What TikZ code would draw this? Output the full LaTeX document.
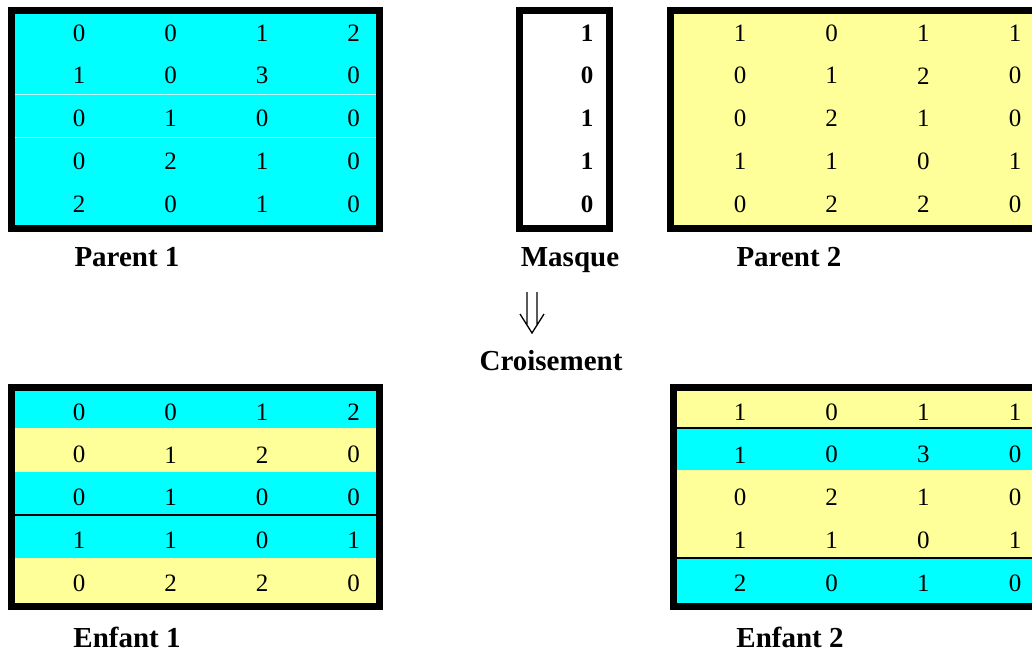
\documentclass[tikz,border=0pt]{standalone}
\usepackage{fontspec}
\setmainfont{Liberation Serif}
\usetikzlibrary{arrows.meta}
\definecolor{crossCyan}{RGB}{0,255,255}
\definecolor{crossYellow}{RGB}{255,255,153}

\begin{document}
\begin{tikzpicture}[
  x=1pt,y=-1pt,
  frame/.style={draw=black, line width=7pt},
  digit/.style={font=\fontsize{25}{29}\selectfont, inner sep=0pt},
  maskdigit/.style={font=\fontsize{25}{29}\selectfont\bfseries, inner sep=0pt},
  caption/.style={font=\fontsize{29}{34}\selectfont\bfseries, inner sep=0pt, anchor=base},
  rowline/.style={draw=black, line width=1.3pt}
]
\useasboundingbox (0,0) rectangle (1032,652);
\clip (0,0) rectangle (1032,652);
\fill[white] (0,0) rectangle (1032,652);

% parent 1, mask, parent 2
\fill[crossCyan] (11.5,10.5) rectangle (379.5,228.5);
\draw[white!75!crossCyan, line width=.8pt] (15,94) -- (376,94) (15,137) -- (376,137);
\fill[crossYellow] (670.5,10.5) rectangle (1045,228.5);
\draw[frame] (11.5,10.5) rectangle (379.5,228.5);
\draw[frame] (519.5,10.5) rectangle (609.5,228.5);
\draw[frame] (670.5,10.5) rectangle (1045,228.5);

\foreach \row [count=\r] in {{0,0,1,2},{1,0,3,0},{0,1,0,0},{0,2,1,0},{2,0,1,0}}
  \foreach \v [count=\c] in \row
    \node[digit] (p1-\r-\c) at ({79+91.5*(\c-1)},{33+42.75*(\r-1)}) {\v};
\foreach \v [count=\r] in {1,0,1,1,0}
  \node[maskdigit] (m-\r) at (587,{33+42.75*(\r-1)}) {\v};
\foreach \row [count=\r] in {{1,0,1,1},{0,1,2,0},{0,2,1,0},{1,1,0,1},{0,2,2,0}}
  \foreach \v [count=\c] in \row
    \node[digit] (p2-\r-\c) at ({740+91.7*(\c-1)},{33+42.75*(\r-1)}) {\v};

\node[caption] (parent1) at (127,266) {Parent 1};
\node[caption] (masque) at (570,266) {Masque};
\node[caption] (parent2) at (789,266) {Parent 2};

% double arrow glyph
\coordinate (fleche) at (532,292);
\draw[line width=1.3pt] (fleche) ++(-5,0) -- ++(0,33) (fleche) ++(5,0) -- ++(0,33)
  (fleche) ++(-12,22) -- ++(12,19) -- ++(12,-19);
\node[caption] (croisement) at (551,370) {Croisement};

% children
\fill[crossCyan] (11.5,387) rectangle (379.5,428);
\fill[crossYellow] (11.5,428) rectangle (379.5,472);
\fill[crossCyan] (11.5,472) rectangle (379.5,558);
\fill[crossYellow] (11.5,558) rectangle (379.5,606);
\draw[rowline] (15,515) -- (376,515);
\draw[frame] (11.5,387) rectangle (379.5,606);

\fill[crossYellow] (673,387) rectangle (1045,428);
\fill[crossCyan] (673,428) rectangle (1045,470);
\fill[crossYellow] (673,470) rectangle (1045,558);
\fill[crossCyan] (673,558) rectangle (1045,606);
\draw[rowline] (676,428) -- (1045,428) (676,558) -- (1045,558);
\draw[frame] (673,387) rectangle (1045,606);

\foreach \row [count=\r] in {{0,0,1,2},{0,1,2,0},{0,1,0,0},{1,1,0,1},{0,2,2,0}}
  \foreach \v [count=\c] in \row
    \node[digit] (e1-\r-\c) at ({79+91.5*(\c-1)},{412+42.75*(\r-1)}) {\v};
\foreach \row [count=\r] in {{1,0,1,1},{1,0,3,0},{0,2,1,0},{1,1,0,1},{2,0,1,0}}
  \foreach \v [count=\c] in \row
    \node[digit] (e2-\r-\c) at ({740+91.7*(\c-1)},{412+42.75*(\r-1)}) {\v};

\node[caption] (enfant1) at (127,647) {Enfant 1};
\node[caption] (enfant2) at (790,647) {Enfant 2};
\end{tikzpicture}
\end{document}
